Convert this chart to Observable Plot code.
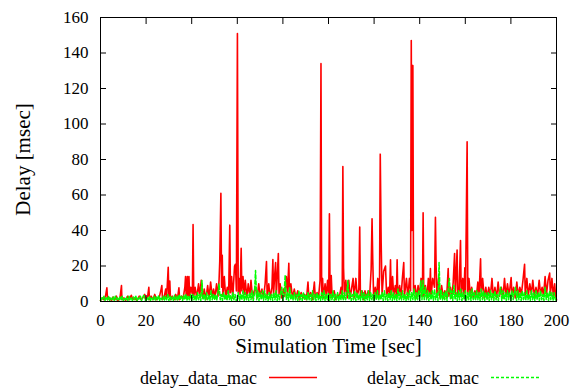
<!DOCTYPE html>
<html>
<head>
<meta charset="utf-8">
<script src="https://cdn.jsdelivr.net/npm/d3@7"></script>
<script src="https://cdn.jsdelivr.net/npm/@observablehq/plot@0.6"></script>
<style>
  html, body { margin: 0; padding: 0; background: #fff; }
  #wrap { position: relative; width: 583px; height: 392px; font-family: 'Liberation Serif', 'Times New Roman', serif; }
  #chart svg, #chart svg text { font-family: 'Liberation Serif', 'Times New Roman', serif !important; }
  #chart svg g[aria-label="y-axis label"] text,
  #chart svg g[aria-label="x-axis label"] text { font-size: 21px; }
  .leg { position: absolute; top: 368px; font-family: 'Liberation Serif', 'Times New Roman', serif; font-size: 18px; line-height: 20px; color: #000; white-space: nowrap; }
  .sw { position: absolute; top: 376px; }
</style>
</head>
<body>
<div id="wrap">
  <div id="chart"></div>
  <div class="leg" style="left:140px">delay_data_mac</div>
  <svg class="sw" style="left:269px" width="48" height="3"><line x1="0" y1="1.5" x2="48" y2="1.5" stroke="#ff0000" stroke-width="1.3"/></svg>
  <div class="leg" style="left:367px">delay_ack_mac</div>
  <svg class="sw" style="left:491px" width="48" height="3"><line x1="0" y1="1.5" x2="48" y2="1.5" stroke="#00ff00" stroke-width="1.3" stroke-dasharray="3,2"/></svg>
</div>
<script>
const xTicks = [0, 20, 40, 60, 80, 100, 120, 140, 160, 180, 200];
const yTicks = [0, 20, 40, 60, 80, 100, 120, 140, 160];

// delay_data_mac: [time (s), delay (ms)]
const delayData = [
[0,0.5],[0.8,2],[1.5,1],[2.2,3],[2.8,7.7],[3.1,1],[4,2],[4.8,0.5],[5.5,2.5],[6.3,1],[7,3],[7.6,0.5],[8.5,1.5],[9.2,9],[9.4,1],[10.3,2],[11,0.5],[12,3],[12.6,1],[13.5,3.5],[14.2,1],[15,2],[16,0.5],[17,3],[17.8,1],[18.5,2],[19.4,4],[20,1],[20.7,3],[21.2,8],[21.5,1],[22.2,3],[23,1],[23.8,4],[24.5,1],[25.2,2],[25.9,3],[26.6,7],[26.9,9],[27.2,1],[28,3],[28.6,7],[29,2],[29.7,19.3],[30,3],[30.4,11.5],[30.7,1],[31.5,3],[32.3,1],[33,4],[33.7,1],[34.4,7.7],[34.7,1],[35.5,3],[36.2,1.5],[37,8],[37.3,14],[37.6,2],[38.1,14],[38.4,3],[38.8,14],[39.1,3],[39.6,8],[40.3,4],[40.6,43.4],[40.9,3],[41.5,8],[42.2,2],[43,10],[43.5,3],[44.2,12],[44.8,2],[45.5,7],[46.2,1],[47,9],[47.6,2],[48.3,11],[49,3],[49.6,7],[50.2,2],[50.9,10],[51.5,3],[52,12],[52.3,22.5],[52.8,61],[53.1,8],[53.4,26],[53.7,3],[54.3,14],[54.9,2],[55.6,8],[56.2,3],[56.7,43],[57,5],[57.5,14],[58,2],[58.8,20],[59.2,21],[59.6,6],[60.05,151],[60.4,5],[60.8,13],[61.2,4],[61.7,30],[62,6],[62.5,14],[63,4],[63.5,12],[64.2,2],[64.8,10],[65.5,3],[66,12],[66.7,2],[67.2,5],[68,8],[68.7,2],[69.4,10],[70,3],[70.8,7],[71.5,2],[72.2,10],[72.8,22.5],[73.1,3],[73.8,10],[74.4,2],[75.2,8],[75.6,23.7],[75.9,4],[76.4,15],[76.8,22],[77.1,3],[78,27],[78.3,4],[78.8,10],[79.4,2],[80.2,7],[80.8,3],[81.5,14],[82,5],[82.6,21.5],[82.9,4],[83.5,10],[84.2,2],[85,7],[85.7,2],[86.5,6],[87.2,1],[88,5],[88.8,2],[89.5,4],[90.3,1],[91,11],[91.4,2],[92.2,5],[93,1],[93.8,11],[94.2,2],[95,5],[95.6,2],[96.3,12],[96.7,134],[97,3],[97.4,13],[97.8,2],[98.5,10],[99,3],[99.6,12],[100.1,3],[100.4,49.4],[100.7,3],[101.2,14.6],[101.6,2],[102.5,6],[103.2,1],[104,4],[104.7,2],[105.5,8],[106,2],[106.3,76],[106.6,19],[107,3],[107.6,12],[108.2,2],[108.9,12],[109.5,2],[110.2,8],[110.8,13],[111.2,2],[112,13],[112.6,3],[113.3,7],[113.7,42],[114,2],[114.7,6],[115.3,1],[116,6],[116.7,2],[117.4,6],[118,2],[118.7,18],[119.1,46.6],[119.4,24],[119.8,2],[120.5,8],[121.1,2],[121.6,13],[122.1,3],[122.4,14],[122.7,83],[123.1,33],[123.5,4],[124.2,17],[125,20],[125.5,3],[126.2,8],[126.8,4],[127.2,23.5],[127.5,3],[128.1,14],[128.6,3],[129.3,9],[129.8,3],[130.1,23.5],[130.4,3],[131.2,9],[131.8,2],[132.4,13],[133,22],[133.3,3],[134.2,13],[134.8,2],[135.5,13],[136,6],[136.3,147],[136.6,40],[137,133],[137.3,4],[138,9],[138.6,2],[139.3,9],[139.9,3],[140.6,13],[141.2,3],[141.5,50],[141.8,3],[142.5,9],[143.2,2],[143.8,13],[144.3,3],[144.7,18.6],[145,3],[145.7,13],[146.5,8],[146.9,47.5],[147.2,20],[147.6,3],[148.3,13],[148.9,2],[149.6,9],[150.4,2],[151,6],[151.8,2],[152.5,18.5],[152.8,3],[153.5,8],[154.1,2],[154.7,11],[155.3,27],[155.6,3],[156.4,29],[156.7,3],[157.3,6],[157.9,34.4],[158.2,3],[158.9,13],[159.4,4],[159.8,19],[160.1,5],[160.8,90],[161.1,4],[161.6,13],[162.2,3],[162.8,8],[163.5,2],[164.2,6],[164.9,3],[165.5,11],[166,3],[166.7,24],[167,3],[167.6,13],[168.3,2],[169,8],[169.6,2],[170.3,8],[171,3],[171.7,13],[172.3,2],[173,8],[173.7,2],[174.4,11],[175,3],[175.8,8],[176.5,2],[177.2,13],[177.8,3],[178.5,10],[179.2,3],[180.1,13.5],[180.5,3],[181.2,8],[181.9,2],[182.6,11],[183.2,3],[183.9,8],[184.6,4],[185.3,12],[186,21],[186.3,4],[187,13],[187.6,3],[188.3,10],[189,4],[189.6,12],[190.3,3],[191,8],[191.7,3],[192.4,12],[193,4],[193.7,8],[194.3,3],[195,14],[195.6,4],[196.3,12],[197,16],[197.3,4],[198,13],[198.6,3],[199.2,10],[199.6,3],[200,1]
];

// delay_ack_mac: one sample every 0.5 s starting at t = 0
const ackStep = 0.5;
const ackDelay = [
0.5,2,1,3,0.5,2.5,1,3,0.5,2,1,2.5,0.5,3,1,2,0.5,2.5,1,3,
0.5,2,1,2.5,0.5,3,1,2,0.5,2.5,1,3,0.5,2,1,3,0.5,2.5,3.5,1,
0.5,2.5,1,3,0.5,2,1,3,0.5,2.5,1,3.5,0.5,2,1,3,0.5,3,1,4,
0.5,3,1,2.5,0.5,3.5,1,3,0.5,4,1,3,0.5,3.5,1,4,0.5,3,1,4,
0.5,4,1,3.5,0.5,5,1,4,0.5,11.8,1,4,0.5,5,1,3.5,0.5,6,1,4,
1,4,0.5,5,10,1,4,0.5,5,1,4,0.5,6,1,3.5,0.5,5,1,4,0.5,
1,5,0.5,4,1,6,0.5,5,1,4,0.5,5,1,6,0.5,4,17.5,1,6,0.5,
5,1,6,0.5,6,1,4,0.5,5,1,4,0.5,5,1,6,0.5,4,1,5,8,
0.5,4,15,1,5,0.5,8,1,4,0.5,5,1,4,0.5,6,1,4,0.5,5,1,
4,0.5,5,1,4,0.5,6,1,4,0.5,5,1,4,0.5,5,1,6,0.5,4,1,
5,0.5,4,1,6,0.5,4,1,5,0.5,4,1,6,0.5,5,1,4,11.8,1,5,
0.5,4,1,6,0.5,5,1,4,0.5,6,1,5,0.5,4,1,6,0.5,5,1,4,
0.5,5,1,6,0.5,4,1,5,0.5,6,1,4,0.5,5,1,6,0.5,5,1,4,
0.5,7,1,5,0.5,6,1,4,0.5,5,1,6,0.5,5,1,7,0.5,5,1,6,
0.5,11.8,1,12,0.5,8,1,6,0.5,5,1,6,0.5,7,1,5,0.5,22,1,6,
0.5,5,1,6,0.5,7,13,1,6,0.5,9,1,5,0.5,6,1,7,0.5,5,1,
6,0.5,5,1,6,0.5,7,1,5,0.5,6,1,5,0.5,7,1,6,0.5,5,1,
5,0.5,6,1,5,0.5,6,1,4,0.5,5,8,0.5,6,1,5,0.5,6,1,5,
0.5,6,1,5,8,0.5,6,1,5,0.5,6,1,5,0.5,6,1,4,0.5,6,1,
5,0.5,6,1,5,0.5,6,1,4,0.5,8,1,5,0.5,6,1,5,0.5,5,1,
0.5
];

const serif = "'Liberation Serif', serif";
const chart = Plot.plot({
  width: 583,
  height: 362,
  marginLeft: 100,
  marginRight: 27,
  marginTop: 17,
  marginBottom: 61,
  style: { fontFamily: serif, fontSize: "17px", color: "#000", background: "#fff" },
  x: { domain: [0, 200], labelArrow: "none" },
  y: { domain: [0, 160], labelArrow: "none" },
  marks: [
    Plot.line(delayData, { x: d => d[0], y: d => d[1], stroke: "#ff0000", strokeWidth: 1.6 }),
    Plot.line(ackDelay, { x: (d, i) => i * ackStep, y: d => d, stroke: "#00ff00", strokeWidth: 1.5, strokeDasharray: "4,2" }),
    Plot.axisX({ ticks: xTicks, anchor: "bottom", tickSize: -6, tickPadding: 18, fontFamily: serif, fontSize: 17, label: "Simulation Time [sec]", labelArrow: "none", labelAnchor: "center", labelOffset: 51 }),
    Plot.axisX({ ticks: xTicks, anchor: "top", tickSize: -6, tickFormat: () => "", label: null }),
    Plot.axisY({ ticks: yTicks, anchor: "left", tickSize: -6, tickPadding: 18, fontFamily: serif, fontSize: 17, label: "Delay [msec]", labelArrow: "none", labelAnchor: "center", labelOffset: 85 }),
    Plot.axisY({ ticks: yTicks, anchor: "right", tickSize: -6, tickFormat: () => "", label: null }),
    Plot.frame({ stroke: "#000", strokeWidth: 1 })
  ]
});
document.getElementById("chart").appendChild(chart);
</script>
</body>
</html>
